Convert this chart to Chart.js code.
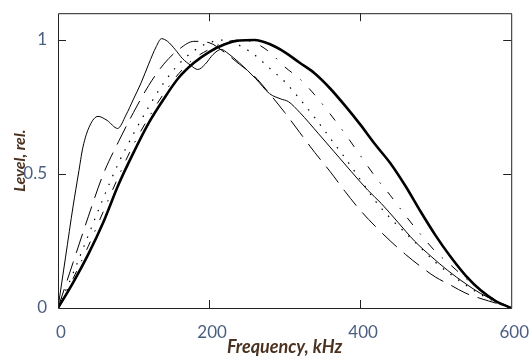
<!DOCTYPE html>
<html>
<head>
<meta charset="utf-8">
<script src="https://cdn.jsdelivr.net/npm/chart.js@4/dist/chart.umd.min.js"></script>
<style>
  html, body { margin: 0; padding: 0; background: #fff; }
  canvas { display: block; }
</style>
</head>
<body>
<canvas id="chartCanvas" width="532" height="356"></canvas>
<script>
// axis ticks
const xTickValues = [0, 200, 400, 600];
const yTickValues = [0, 0.5, 1];

// frequency grid (kHz) shared by the smooth curves
const frequency = [0, 20, 40, 60, 80, 100, 120, 140, 160, 180, 200, 220, 240, 260, 280, 300,
  320, 340, 360, 380, 400, 420, 440, 460, 480, 500, 520, 540, 560, 580, 600];

// bold solid curve
const levelBold = [0, 0.095, 0.2, 0.32, 0.46, 0.58, 0.69, 0.78, 0.86, 0.915, 0.955, 0.983, 0.998, 1.0, 0.985, 0.955,
  0.915, 0.875, 0.82, 0.755, 0.685, 0.61, 0.54, 0.455, 0.36, 0.27, 0.19, 0.12, 0.065, 0.025, 0];

// long dashes
const levelDash = [0, 0.17, 0.34, 0.5, 0.62, 0.73, 0.83, 0.91, 0.965, 0.995, 0.99, 0.955, 0.91, 0.865, 0.8, 0.73,
  0.655, 0.58, 0.51, 0.435, 0.365, 0.305, 0.25, 0.2, 0.155, 0.115, 0.085, 0.055, 0.035, 0.018, 0];

// dotted
const levelDot = [0, 0.13, 0.27, 0.41, 0.54, 0.65, 0.75, 0.84, 0.91, 0.96, 0.99, 1.0, 0.98, 0.945, 0.895, 0.845,
  0.78, 0.71, 0.635, 0.56, 0.48, 0.4, 0.335, 0.28, 0.225, 0.17, 0.125, 0.085, 0.05, 0.022, 0];

// dash-dot
const levelDashDot = [0, 0.11, 0.23, 0.36, 0.49, 0.61, 0.71, 0.8, 0.875, 0.93, 0.965, 0.99, 1.0, 0.99, 0.955, 0.9,
  0.855, 0.795, 0.725, 0.65, 0.57, 0.49, 0.42, 0.345, 0.275, 0.21, 0.16, 0.11, 0.065, 0.03, 0];

// thin solid curve with the low-frequency bump
const frequencyThin = [0, 10, 20, 27, 33, 42, 53, 65, 79, 90, 100, 110, 120, 130, 137, 145, 155, 165, 176, 185,
  195, 205, 216, 225, 240, 262, 280, 295, 305, 320, 345, 365, 388, 410, 428, 450, 472, 495, 516, 540, 559, 580, 600];
const levelThin = [0, 0.19, 0.38, 0.5, 0.6, 0.68, 0.715, 0.7, 0.67, 0.72, 0.78, 0.84, 0.91, 0.975, 1.005, 0.995,
  0.965, 0.93, 0.905, 0.89, 0.91, 0.945, 0.965, 0.95, 0.915, 0.855, 0.8, 0.78, 0.77, 0.73, 0.65, 0.585, 0.51,
  0.44, 0.39, 0.32, 0.25, 0.19, 0.14, 0.09, 0.055, 0.025, 0];

const toPoints = (xs, ys) => xs.map((x, i) => ({ x: x, y: ys[i] }));

const lineStyle = (label, points, width, dash) => ({
  label: label,
  data: points,
  borderColor: "#000",
  borderWidth: width,
  borderDash: dash,
  pointRadius: 0,
  fill: false,
  cubicInterpolationMode: "monotone",
});

// frame + inward ticks, drawn from the chart's own scales
const framePlugin = {
  id: "frame",
  afterDatasetsDraw(chart) {
    const { ctx, chartArea: a, scales } = chart;
    const tick = 8;
    ctx.save();
    ctx.strokeStyle = "#222";
    ctx.lineWidth = 1;
    ctx.beginPath();
    ctx.rect(a.left + 0.5, a.top + 0.5, a.right - a.left, a.bottom - a.top);
    xTickValues.slice(1, -1).forEach((v) => {
      const px = Math.round(scales.x.getPixelForValue(v)) + 0.5;
      ctx.moveTo(px, a.bottom);
      ctx.lineTo(px, a.bottom - tick);
      ctx.moveTo(px, a.top);
      ctx.lineTo(px, a.top + tick);
    });
    yTickValues.slice(1).forEach((v) => {
      const py = Math.round(scales.y.getPixelForValue(v)) + 0.5;
      ctx.moveTo(a.left, py);
      ctx.lineTo(a.left + tick, py);
      ctx.moveTo(a.right, py);
      ctx.lineTo(a.right - tick, py);
    });
    ctx.stroke();
    ctx.restore();
  },
};

const tickColor = "#4a5f80";
const titleColor = "#4b3220";

const renderChart = () => {
  const ctx = document.getElementById("chartCanvas").getContext("2d");

  new Chart(ctx, {
    type: "line",
    data: {
      datasets: [
        lineStyle("thin", toPoints(frequencyThin, levelThin), 1, []),
        lineStyle("dash", toPoints(frequency, levelDash), 1, [20, 9]),
        lineStyle("dot", toPoints(frequency, levelDot), 1.2, [1.5, 8]),
        lineStyle("dashdot", toPoints(frequency, levelDashDot), 1, [9, 11, 1.5, 11]),
        lineStyle("bold", toPoints(frequency, levelBold), 2.6, []),
      ],
    },
    options: {
      responsive: false,
      animation: false,
      layout: { padding: { top: 11, right: 18, left: 0, bottom: 0 } },
      plugins: { legend: { display: false }, tooltip: { enabled: false } },
      scales: {
        x: {
          type: "linear",
          min: 0,
          max: 600,
          grid: { display: false },
          border: { display: false },
          afterBuildTicks: (scale) => {
            scale.ticks = xTickValues.map((v) => ({ value: v }));
          },
          afterFit: (scale) => {
            scale.height = 48;
          },
          ticks: {
            color: tickColor,
            font: { family: "Lato", size: 17 },
            padding: 6,
            labelOffset: 3,
            maxRotation: 0,
            callback: (v) => String(v),
          },
          title: {
            display: true,
            text: "Frequency, kHz",
            color: titleColor,
            font: { family: "Lato", size: 18, weight: "bold", style: "italic", lineHeight: 1 },
            padding: { top: 0, bottom: 0 },
          },
        },
        y: {
          min: 0,
          max: 1.1,
          grid: { display: false },
          border: { display: false },
          afterBuildTicks: (scale) => {
            scale.ticks = yTickValues.map((v) => ({ value: v }));
          },
          afterFit: (scale) => {
            scale.width = 58;
          },
          ticks: {
            color: tickColor,
            font: { family: "Lato", size: 17 },
            padding: 3,
            callback: (v) => String(v),
          },
          title: {
            display: true,
            text: "Level, rel.",
            color: titleColor,
            font: { family: "Lato", size: 16, weight: "bold", style: "italic", lineHeight: 1 },
            padding: { top: 12, bottom: 0 },
          },
        },
      },
    },
    plugins: [framePlugin],
  });
};

renderChart();
</script>
</body>
</html>
